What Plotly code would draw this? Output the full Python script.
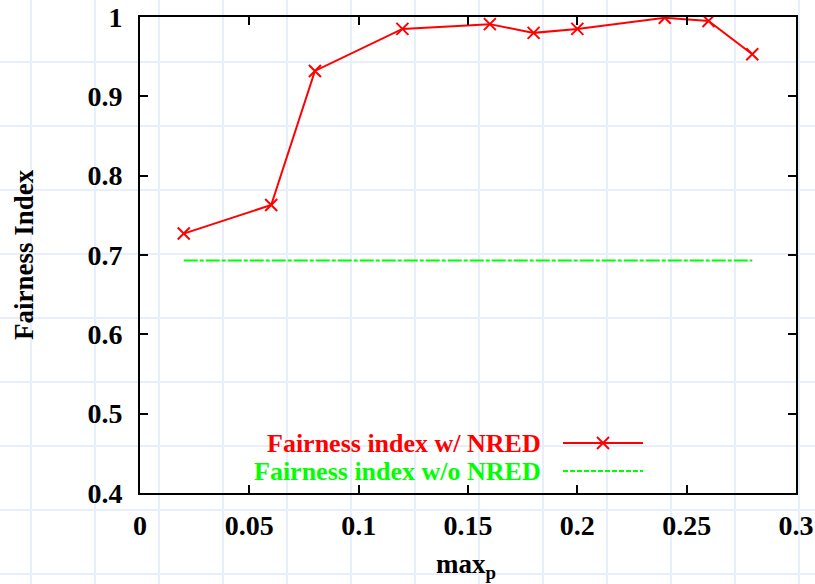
import plotly.graph_objects as go

# ---- data ----
max_p = [0.02, 0.06, 0.08, 0.12, 0.16, 0.18, 0.20, 0.24, 0.26, 0.28]
fairness_with_nred = [0.727, 0.763, 0.932, 0.985, 0.991, 0.980, 0.985, 0.999, 0.995, 0.953]
fairness_without_nred = [0.693] * len(max_p)
x_ticks = [0, 0.05, 0.1, 0.15, 0.2, 0.25, 0.3]
x_tick_labels = ["0", "0.05", "0.1", "0.15", "0.2", "0.25", "0.3"]
y_ticks = [0.4, 0.5, 0.6, 0.7, 0.8, 0.9, 1.0]
y_tick_labels = ["0.4", "0.5", "0.6", "0.7", "0.8", "0.9", "1"]
series_names = ["Fairness index w/ NRED", "Fairness index w/o NRED"]

W, H = 815, 584
L, R, T, B = 140, 19, 17, 91
PW, PH = W - L - R, H - T - B
FONT = "Liberation Serif"
RED, GREEN = "#ff0000", "#00ff00"


def px(x):
    return (x - L) / PW


def py(y):
    return (H - B - y) / PH


fig = go.Figure()
fig.add_trace(go.Scatter(
    x=max_p, y=fairness_with_nred, mode="lines+markers", name=series_names[0],
    line=dict(color=RED, width=2),
    marker=dict(symbol="x-thin-open", size=12, line=dict(color=RED, width=2)),
    showlegend=False,
))
fig.add_trace(go.Scatter(
    x=max_p, y=fairness_without_nred, mode="lines", name=series_names[1],
    line=dict(color=GREEN, width=2, dash="14px,2px,4px,2px"),
    showlegend=False,
))

shapes = []
# background graph-paper grid
grid_col = "#e9eefb"
for gx in range(31, W + 1, 64):
    shapes.append(dict(type="line", xref="paper", yref="paper", x0=px(gx), x1=px(gx),
                       y0=py(-5), y1=py(H + 5), line=dict(color=grid_col, width=2), layer="below"))
for gy in range(-2, H + 1, 64):
    shapes.append(dict(type="line", xref="paper", yref="paper", x0=px(-5), x1=px(W + 5),
                       y0=py(gy), y1=py(gy), line=dict(color=grid_col, width=2), layer="below"))

# legend samples (gnuplot style: text left of sample)
leg_y = [443, 471]
shapes.append(dict(type="line", xref="paper", yref="paper", x0=px(563), x1=px(643),
                   y0=py(leg_y[0]), y1=py(leg_y[0]), line=dict(color=RED, width=2)))
shapes.append(dict(type="line", xref="paper", yref="paper", x0=px(597), x1=px(609),
                   y0=py(leg_y[0] - 6), y1=py(leg_y[0] + 6), line=dict(color=RED, width=2)))
shapes.append(dict(type="line", xref="paper", yref="paper", x0=px(597), x1=px(609),
                   y0=py(leg_y[0] + 6), y1=py(leg_y[0] - 6), line=dict(color=RED, width=2)))
shapes.append(dict(type="line", xref="paper", yref="paper", x0=px(563), x1=px(643),
                   y0=py(leg_y[1]), y1=py(leg_y[1]), line=dict(color=GREEN, width=2, dash="5px,2px")))

annotations = [
    dict(text=series_names[0], xref="paper", yref="paper", x=px(543), y=py(leg_y[0]),
         xanchor="right", yanchor="middle", showarrow=False,
         font=dict(family=FONT, size=26, color=RED, weight="bold")),
    dict(text=series_names[1], xref="paper", yref="paper", x=px(543), y=py(leg_y[1]),
         xanchor="right", yanchor="middle", showarrow=False,
         font=dict(family=FONT, size=26, color=GREEN, weight="bold")),
    dict(text="Fairness Index", xref="paper", yref="paper", x=px(24), y=py(255),
         xanchor="center", yanchor="middle", textangle=-90, showarrow=False,
         font=dict(family=FONT, size=27, color="black", weight="bold")),
    dict(text="max<sub>p</sub>", xref="paper", yref="paper", x=px(466), y=py(566),
         xanchor="center", yanchor="middle", showarrow=False,
         font=dict(family=FONT, size=27, color="black", weight="bold")),
]

axis_common = dict(
    showline=True, linecolor="black", linewidth=2, mirror="ticks",
    ticks="inside", ticklen=8, tickwidth=2, tickcolor="black",
    showgrid=False, zeroline=False, automargin=False,
    tickfont=dict(family=FONT, size=28, color="black", weight="bold"),
)

fig.update_layout(
    width=W, height=H,
    margin=dict(l=L, r=R, t=T, b=B),
    paper_bgcolor="white", plot_bgcolor="rgba(0,0,0,0)",
    xaxis=dict(range=[0, 0.3], tickvals=x_ticks, ticktext=x_tick_labels,
               ticklabelstandoff=6, **axis_common),
    yaxis=dict(range=[0.4, 1.0], tickvals=y_ticks, ticktext=y_tick_labels,
               ticklabelstandoff=10, **axis_common),
    shapes=shapes, annotations=annotations,
)

fig.write_html("out.html")
